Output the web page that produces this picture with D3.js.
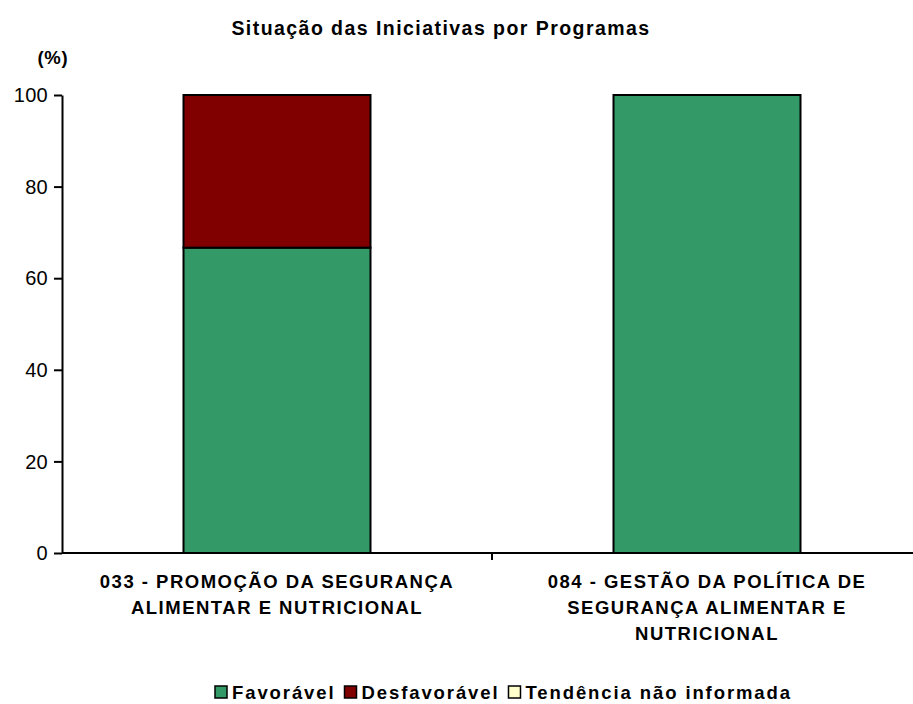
<!DOCTYPE html>
<html><head><meta charset="utf-8">
<script src="https://cdn.jsdelivr.net/npm/d3@7"></script>
<style>body{margin:0;background:#fff}svg{display:block}text{font-family:"Liberation Sans",Arial,sans-serif}</style>
</head><body><svg id="c" width="913" height="704"></svg>
<script>
const categories = [
  ["033 - PROMOÇÃO DA SEGURANÇA", "ALIMENTAR E NUTRICIONAL"],
  ["084 - GESTÃO DA POLÍTICA DE", "SEGURANÇA ALIMENTAR E", "NUTRICIONAL"]
];
const seriesNames = ["Favorável", "Desfavorável", "Tendência não informada"];
const favoravel = [66.67, 100];
const desfavoravel = [33.33, 0];
const naoInformada = [0, 0];
const yTicks = [0, 20, 40, 60, 80, 100];
const colors = ["#339966", "#800000", "#FFFFCC"];

const svg = d3.select("#c");
const x = d3.scaleBand().domain([0,1]).range([62, 922]).paddingInner(0).paddingOuter(0);
const y = d3.scaleLinear().domain([0,100]).range([553, 95]);
const barW = 187;

const data = [0,1].map(i => ({i, Favorável: favoravel[i], Desfavorável: desfavoravel[i], "Tendência não informada": naoInformada[i]}));
const stack = d3.stack().keys(seriesNames)(data);

stack.forEach((s, k) => {
  svg.append("g").selectAll("rect").data(s.filter(d => d[1]-d[0] > 0)).join("rect")
    .attr("x", d => x(d.data.i) + x.bandwidth()/2 - barW/2)
    .attr("width", barW)
    .attr("y", d => y(d[1]))
    .attr("height", d => y(d[0]) - y(d[1]))
    .attr("fill", colors[k]).attr("stroke", "#000").attr("stroke-width", 2);
});

// y axis
const ya = svg.append("g").attr("transform", "translate(62,0)")
  .call(d3.axisLeft(y).tickValues(yTicks).tickSize(8).tickSizeOuter(0).tickPadding(6));
ya.select(".domain").attr("stroke", "#000").attr("stroke-width", 2);
ya.selectAll(".tick line").attr("stroke-width", 2);
ya.selectAll("text").attr("font-size", 20).attr("letter-spacing", 0.3).attr("fill", "#000").attr("dy", "0.33em");

// x axis
svg.append("line").attr("x1", 62).attr("x2", 913).attr("y1", y(0)).attr("y2", y(0)).attr("stroke", "#000").attr("stroke-width", 2);
[1].forEach(i => svg.append("line").attr("x1", x(i)).attr("x2", x(i)).attr("y1", y(0)).attr("y2", y(0)+7).attr("stroke", "#000").attr("stroke-width", 2));

categories.forEach((lines, i) => {
  const cx = x(i) + x.bandwidth()/2;
  const t = svg.append("text").attr("text-anchor", "middle").attr("font-size", 18.5).attr("font-weight", "bold").attr("letter-spacing", 1.5).attr("fill", "#000");
  lines.forEach((l, j) => t.append("tspan").attr("x", cx).attr("y", 588 + j*26).text(l));
});

svg.append("text").attr("x", 441).attr("y", 35).attr("text-anchor", "middle").attr("font-size", 19.5).attr("font-weight", "bold").attr("letter-spacing", 1.45).text("Situação das Iniciativas por Programas");
svg.append("text").attr("x", 53).attr("y", 64).attr("text-anchor", "middle").attr("font-size", 18.5).attr("font-weight", "bold").attr("letter-spacing", 0.8).text("(%)");

// legend
const lg = svg.append("g");
let lx = 215;
seriesNames.forEach((n, k) => {
  lg.append("rect").attr("x", lx).attr("y", 686).attr("width", 12).attr("height", 12).attr("fill", colors[k]).attr("stroke", "#000").attr("stroke-width", 1.5);
  const t = lg.append("text").attr("x", lx + 17).attr("y", 699).attr("font-size", 18.5).attr("font-weight", "bold").attr("letter-spacing", 1.9).text(n);
  lx += 17 + t.node().getComputedTextLength() + 9;
});
</script></body></html>
